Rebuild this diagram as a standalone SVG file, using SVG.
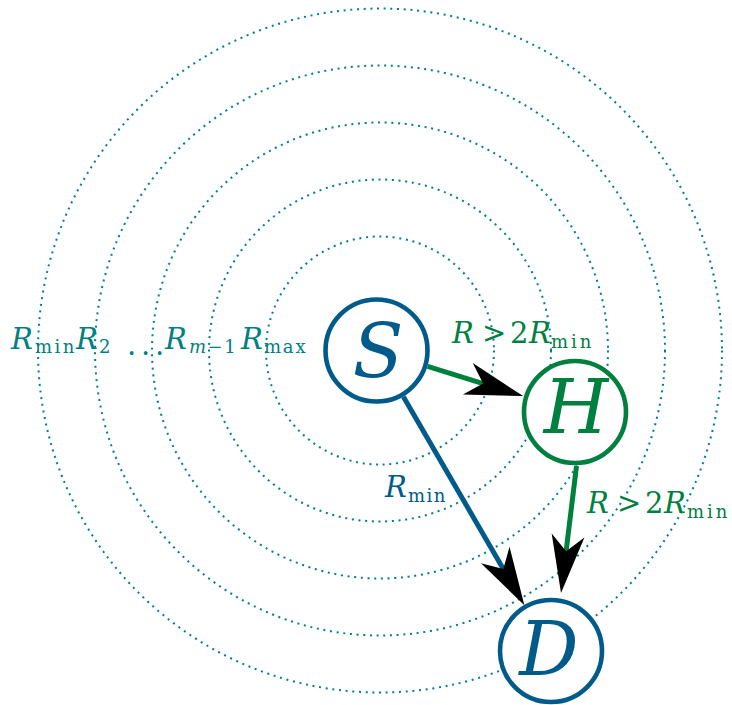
<svg xmlns="http://www.w3.org/2000/svg" width="732" height="705" viewBox="0 0 732 705">
<style>
.ring{fill:none;stroke:#008080;stroke-width:2;stroke-dasharray:2 4.7}
.node{fill:#fff;stroke-width:4.6}
.blue{stroke:#005a8a}
.green{stroke:#00803f}
.nt{font-style:italic;font-size:74px;text-anchor:middle}
.lbl{font-size:29px}
.it{font-style:italic}
.sub{font-size:18px}
.edge{fill:none;stroke-width:5}
.tl{fill:#008080}
.gl{fill:#00803f}
.bl{fill:#005a8a}
</style>
<defs>
<marker id="ah" viewBox="-60 -20 64 40" markerWidth="64" markerHeight="40" refX="-42" refY="0" orient="auto" markerUnits="userSpaceOnUse">
<path d="M0,0 L-58,-16.5 L-42,0 L-58,16.5 Z" fill="#000"/>
</marker>
</defs>
<g font-family="'DejaVu Serif', 'Liberation Serif', serif">
<g id="rings">
<circle class="ring" cx="380" cy="350.5" r="342"/>
<circle class="ring" cx="380" cy="350.5" r="285"/>
<circle class="ring" cx="380" cy="350.5" r="228"/>
<circle class="ring" cx="380" cy="350.5" r="171"/>
<circle class="ring" cx="380" cy="350.5" r="114"/>
</g>
<g id="ring-labels">
<text class="lbl tl" y="349"><tspan class="it" x="11">R</tspan><tspan class="sub" x="35" dy="4" letter-spacing="2.5">min</tspan><tspan class="it" x="76" dy="-4">R</tspan><tspan class="sub" x="99" dy="4">2</tspan><tspan x="127" dy="2">.</tspan><tspan x="141">.</tspan><tspan x="155">.</tspan><tspan class="it" x="165" dy="-6">R</tspan><tspan class="sub" x="189" dy="4" letter-spacing="1.5"><tspan class="it">m</tspan>−1</tspan><tspan class="it" x="241" dy="-4">R</tspan><tspan class="sub" x="264" dy="4" letter-spacing="1.8">max</tspan></text>
</g>
<g id="connectors">
<g id="e-S-H">
<path class="edge green" d="M427.6,366.3 L483.1,383.6" marker-end="url(#ah)"/>
<text class="lbl gl" y="343"><tspan class="it" x="452">R</tspan><tspan x="482">&gt;</tspan><tspan x="510">2</tspan><tspan class="it" x="529">R</tspan><tspan class="sub" x="551" dy="5" letter-spacing="3">min</tspan></text>
</g>
<g id="e-S-D">
<path class="edge blue" d="M403.4,396.8 L503.3,568.9" marker-end="url(#ah)"/>
<text class="lbl bl" y="497"><tspan class="it" x="385">R</tspan><tspan class="sub" x="408" dy="5" letter-spacing="1.5">min</tspan></text>
</g>
<g id="e-H-D">
<path class="edge green" d="M576.5,466 L566.1,551.3" marker-end="url(#ah)"/>
<text class="lbl gl" y="513"><tspan class="it" x="587">R</tspan><tspan x="617">&gt;</tspan><tspan x="645">2</tspan><tspan class="it" x="664">R</tspan><tspan class="sub" x="687" dy="5" letter-spacing="3">min</tspan></text>
</g>
</g>
<g id="S">
<circle class="node blue" cx="376.5" cy="350.5" r="51"/>
<text class="nt bl" x="378" y="377">S</text>
</g>
<g id="H">
<circle class="node green" cx="575" cy="412" r="51"/>
<text class="nt gl" x="576" y="433">H</text>
</g>
<g id="D">
<circle class="node blue" cx="551" cy="651" r="51"/>
<text class="nt bl" x="549" y="675">D</text>
</g>
</g>
</svg>
